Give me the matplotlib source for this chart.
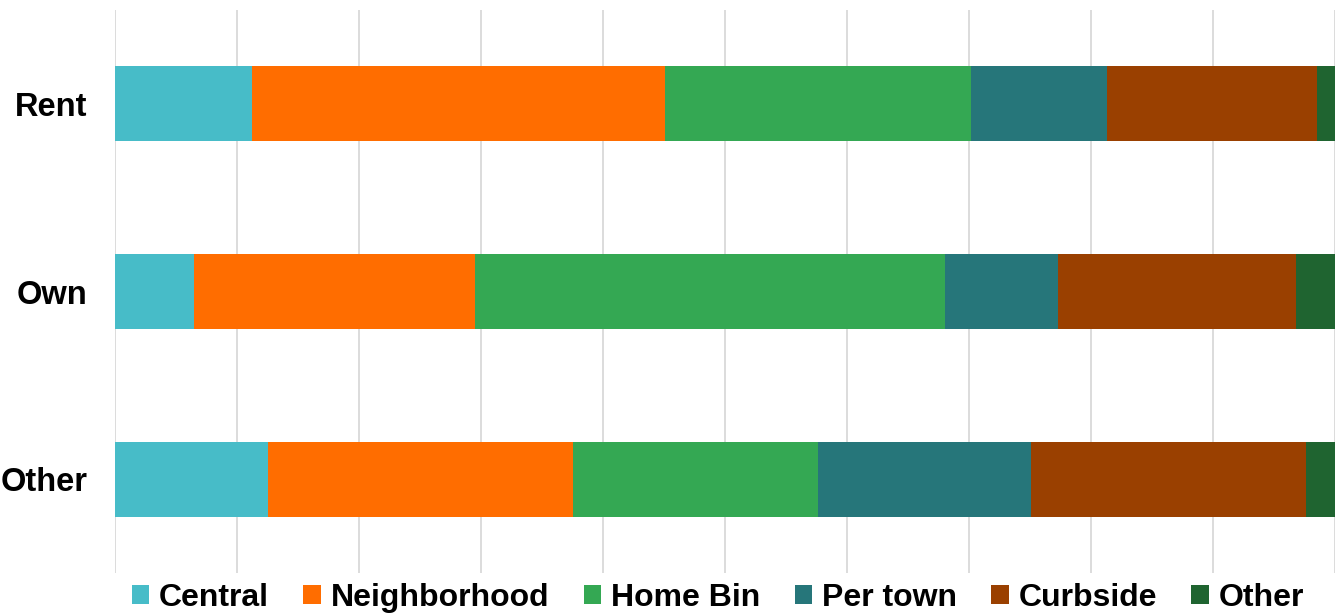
import matplotlib.pyplot as plt
import numpy as np

plt.rcParams['font.family'] = ['Liberation Sans', 'DejaVu Sans']

# Shares (%) by housing type
groups = ['Rent', 'Own', 'Other']
central = [11.2, 6.5, 12.5]
neighborhood = [33.9, 23.0, 25.0]
home_bin = [25.1, 38.5, 20.1]
per_town = [11.1, 9.3, 17.5]
curbside = [17.2, 19.5, 22.5]
other = [1.5, 3.2, 2.4]

series = [('Central', central, '#47BCC8'),
          ('Neighborhood', neighborhood, '#FF6D00'),
          ('Home Bin', home_bin, '#34A853'),
          ('Per town', per_town, '#26767A'),
          ('Curbside', curbside, '#9A4000'),
          ('Other', other, '#1F6430')]

fig = plt.figure(figsize=(13.43, 6.15), dpi=100)
ax = fig.add_axes([115 / 1343, 1 - 573 / 615, 1220 / 1343, 563 / 615])

y = np.arange(len(groups))
left = np.zeros(len(groups))
for name, vals, color in series:
    vals = np.array(vals)
    ax.barh(y, vals, left=left, height=0.4, color=color, label=name, zorder=2)
    left += vals

ax.set_xlim(0, 100)
ax.set_ylim(2.5, -0.5)
ax.set_xticks(np.arange(0, 101, 10))
ax.set_xticklabels([])
ax.tick_params(axis='both', length=0)
ax.grid(axis='x', color='#D9D9D9', linewidth=1.3, zorder=0)
ax.set_yticks(y)
ax.set_yticklabels(groups, fontsize=23.5, fontweight='bold')
ax.tick_params(axis='y', pad=20)
for s in ax.spines.values():
    s.set_visible(False)

fig.legend(loc='center', bbox_to_anchor=(0.5345, 1 - 598 / 615), ncol=6,
           frameon=False, prop={'size': 23, 'weight': 'bold'},
           handlelength=0.55, handleheight=0.55, handletextpad=0.3,
           columnspacing=1.08, borderaxespad=0)

fig.savefig('out.png', dpi=100)
